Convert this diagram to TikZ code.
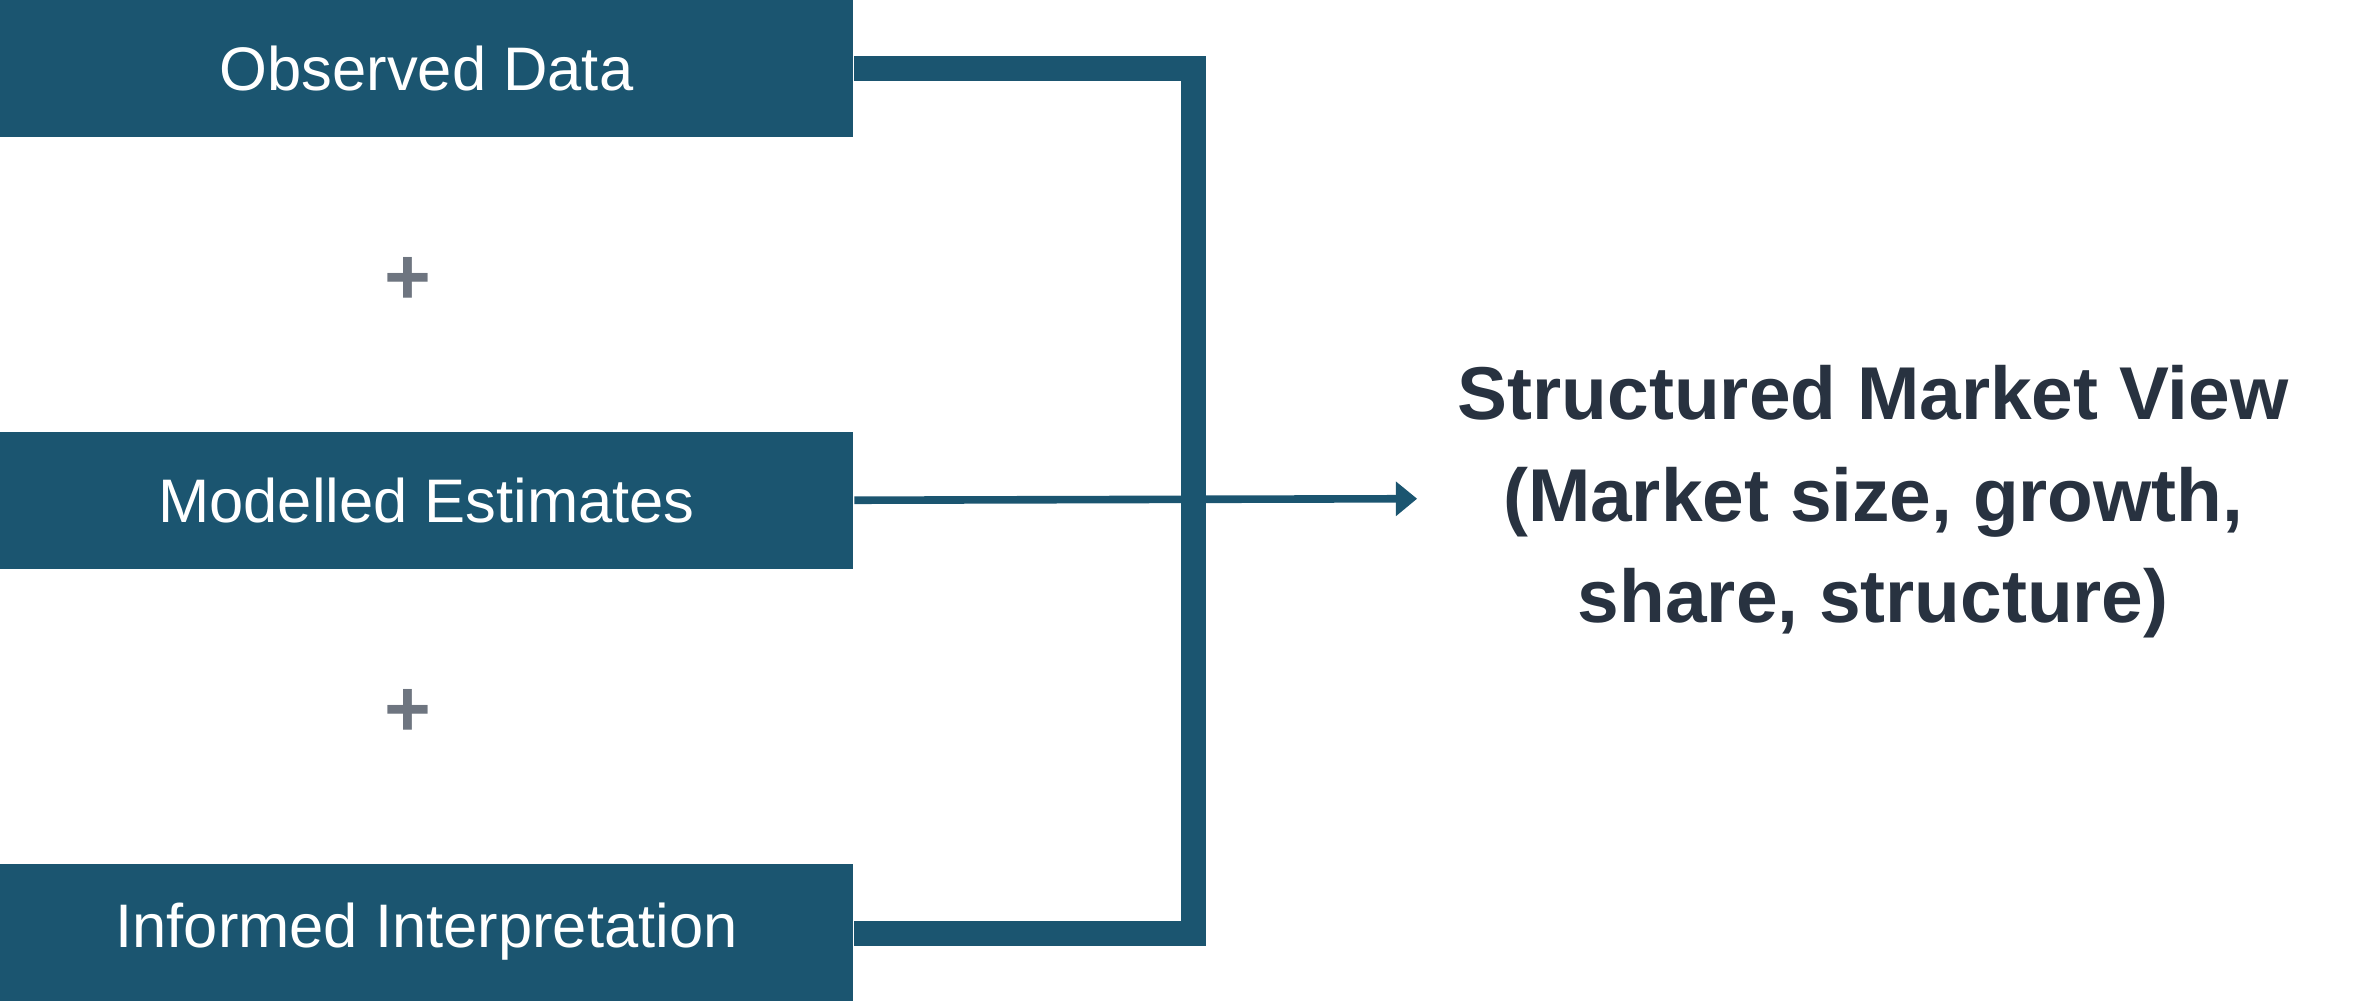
\documentclass[tikz,border=0pt]{standalone}
\usepackage{fontspec}
\setmainfont{Liberation Sans}
\usetikzlibrary{positioning,arrows.meta}
\definecolor{boxblue}{HTML}{1B5570}
\definecolor{darktext}{HTML}{283240}
\definecolor{plusgray}{HTML}{6E7580}
\begin{document}
\begin{tikzpicture}[x=0.01cm,y=-0.01cm]
    \tikzstyle{src_box}=[fill=boxblue,text=white,minimum width=5.61cm,minimum height=0.9cm,inner sep=0pt,font=\fontsize{11.5}{13}\selectfont]
    \tikzstyle{plus_sign}=[text=plusgray,font=\fontsize{15}{16}\selectfont\bfseries]
    \useasboundingbox (0,0) rectangle (1560,661);
    \node[src_box] (obs) at (280.5,45) {Observed Data};
    \node[src_box] (mod) at (280.5,329) {Modelled Estimates};
    \node[src_box] (inf) at (280.5,613) {Informed Interpretation};
    \node[plus_sign] (p1) at (268,185) {+};
    \node[plus_sign] (p2) at (268,469) {+};
    \node[text=darktext,align=center,font=\fontsize{14}{19}\selectfont\bfseries] (view) at (1232,330)
        {Structured Market View\\(Market size, growth,\\share, structure)};
    \coordinate (top) at (785,45);
    \coordinate (bot) at (785,614);
    \coordinate (tip) at (932,328);
    \draw[boxblue,line width=0.16cm] (obs.east) -- (top) -- (bot) -- (inf.east |- bot);
    \draw[boxblue,line width=0.05cm,-{Triangle[length=0.14cm,width=0.22cm]}] (mod.east) -- (tip);
\end{tikzpicture}
\end{document}
